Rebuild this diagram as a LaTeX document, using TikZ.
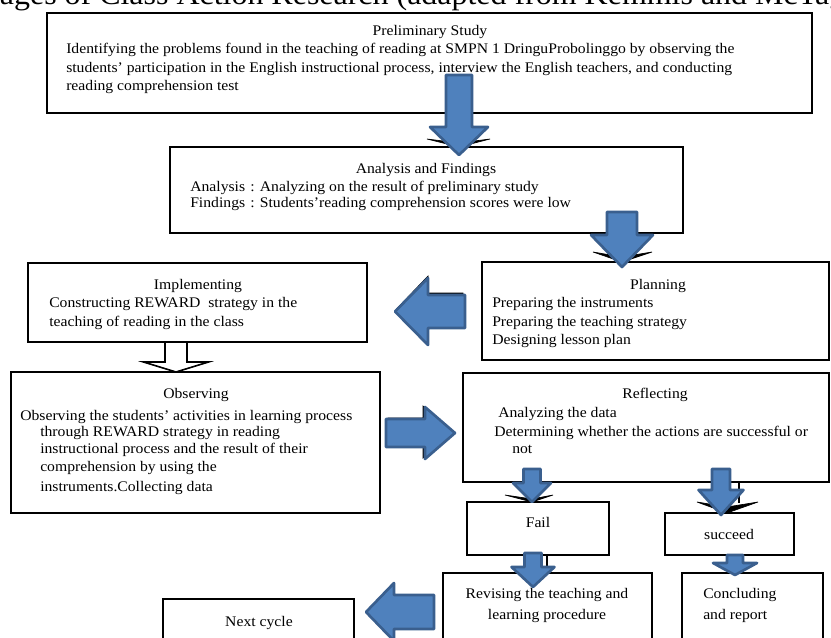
\documentclass[tikz,border=0pt]{standalone}
\usepackage{fontspec}
\setmainfont{Liberation Serif}[FakeStretch=1.07]
\usetikzlibrary{fit}
\definecolor{arrowfill}{HTML}{4F81BD}
\definecolor{arrowline}{HTML}{3A5F8E}
\tikzset{
  box/.style={draw=black, line width=1.4pt, inner sep=0pt, fill=white},
  thickbox/.style={box, line width=2pt},
  txt/.style={inner sep=0pt, font=\fontsize{11pt}{14pt}\selectfont},
  blockarrow/.style={fill=arrowfill, draw=arrowline, line width=2pt, line join=round},
  hollowarrow/.style={fill=white, draw=black, line width=1.2pt, line join=miter},
  blackbit/.style={fill=black, draw=black, line width=0.5pt},
}
\newcommand{\blkdown}[7][blockarrow]{% cx, shaftTop, shaftHalf, headTop, headHalf, tipY
  \draw[#1] ({#2-#4},#3) -- ({#2+#4},#3) -- ({#2+#4},#5) -- ({#2+#6},#5) -- (#2,#7) -- ({#2-#6},#5) -- ({#2-#4},#5) -- cycle;}
\newcommand{\blkhoriz}[7][blockarrow]{% cy, shaftEnd, shaftHalf, headBase, headHalf, tipX
  \draw[#1] (#3,{#2-#4}) -- (#3,{#2+#4}) -- (#5,{#2+#4}) -- (#5,{#2+#6}) -- (#7,#2) -- (#5,{#2-#6}) -- (#5,{#2-#4}) -- cycle;}
\begin{document}
\begin{tikzpicture}[x=0.75pt,y=-0.75pt]
\useasboundingbox (0,0) rectangle (831,638);
% title (cut off at the top of the page)
\node[anchor=base west, inner sep=0pt, font=\fontsize{22.4pt}{26pt}\selectfont] (title) at (-27,4.5) {Stages of Class Action Research (adapted from Kemmis and McTaggart, 1988)};
% boxes
\node[thickbox, fit={(47,13) (812,113)}] (prelim) {};
\node[box, fit={(170,147) (683,233)}] (analysis) {};
\node[box, fit={(28,263) (367,342)}] (impl) {};
\node[box, fit={(482,262) (829,360)}] (plan) {};
\node[box, fit={(11,372) (380,513)}] (obs) {};
\node[box, fit={(463,373) (829,482)}] (refl) {};
\node[box, fit={(467,502) (609,555)}] (fail) {};
\node[box, fit={(665,513) (794,555)}] (succ) {};
\node[box, fit={(443,573) (652,660)}] (revise) {};
\node[box, fit={(682,573) (823,660)}] (concl) {};
\node[box, fit={(163,599) (354,660)}] (next) {};
% texts
\node[txt, anchor=base] (t1) at (430,36) {Preliminary Study};
\node[txt, anchor=base west] (t2) at (66,54) {Identifying the problems found in the teaching of reading at SMPN 1 DringuProbolinggo by observing the};
\node[txt, anchor=base west] (t3) at (66,73) {students’ participation in the English instructional process, interview the English teachers, and conducting};
\node[txt, anchor=base west] (t4) at (66,91) {reading comprehension test};
\node[txt, anchor=base] (a1) at (426,173) {Analysis and Findings};
\node[txt, anchor=base west] (a2) at (190,191) {Analysis};
\node[txt, anchor=base west] (a3) at (250,191) {: Analyzing on the result of preliminary study};
\node[txt, anchor=base west] (a4) at (190,207) {Findings};
\node[txt, anchor=base west] (a5) at (250,207) {: Students’reading comprehension scores were low};
\node[txt, anchor=base] (i1) at (198,289) {Implementing};
\node[txt, anchor=base west] (i2) at (49,307) {Constructing REWARD\ \ strategy in the};
\node[txt, anchor=base west] (i3) at (49,326) {teaching of reading in the class};
\node[txt, anchor=base] (p1) at (658,289) {Planning};
\node[txt, anchor=base west] (p2) at (492,307) {Preparing the instruments};
\node[txt, anchor=base west] (p3) at (492,326) {Preparing the teaching strategy};
\node[txt, anchor=base west] (p4) at (492,344) {Designing lesson plan};
\node[txt, anchor=base] (o1) at (196,398) {Observing};
\node[txt, anchor=base west] (o2) at (20,420) {Observing the students’ activities in learning process};
\node[txt, anchor=base west] (o3) at (40,436) {through REWARD strategy in reading};
\node[txt, anchor=base west] (o4) at (40,453) {instructional process and the result of their};
\node[txt, anchor=base west] (o5) at (40,471) {comprehension by using the};
\node[txt, anchor=base west] (o6) at (40,491) {instruments.Collecting data};
\node[txt, anchor=base] (r1) at (655,398) {Reflecting};
\node[txt, anchor=base west] (r2) at (498,417) {Analyzing the data};
\node[txt, anchor=base west] (r3) at (494,436) {Determining whether the actions are successful or};
\node[txt, anchor=base west] (r4) at (512,453) {not};
\node[txt, anchor=base] (f1) at (538,527) {Fail};
\node[txt, anchor=base] (s1) at (729,539) {succeed};
\node[txt, anchor=base] (v1) at (547,598) {Revising the teaching and};
\node[txt, anchor=base] (v2) at (547,619) {learning procedure};
\node[txt, anchor=base west] (c1) at (703,598) {Concluding};
\node[txt, anchor=base west] (c2) at (703,619) {and report};
\node[txt, anchor=base] (n1) at (259,626) {Next cycle};
% black connector bits behind the block arrows
\fill[blackbit] (427,139) -- (459,147) -- (490,139) -- (459,143) -- cycle;
\fill[blackbit] (593,252) -- (622,262) -- (652,252) -- (622,257) -- cycle;
\blkhoriz[blackbit]{309.5}{463}{16.5}{428}{33.5}{396}
\blkhoriz[blackbit]{432}{388}{14}{423}{26}{452}
\fill[blackbit] (505,495) -- (532,502) -- (553,495) -- (532,499) -- cycle;
\draw[black, line width=1.2pt] (739,482) -- (739,503);
\fill[blackbit] (697,502) -- (727,513) -- (758,502) -- (727,507) -- cycle;
\draw[black, line width=1.2pt] (547,555) -- (547,568);
% hollow arrow implementing -> observing
\blkdown[hollowarrow]{176}{342}{11}{362}{32.5}{372}
% blue block arrows
\blkdown{459}{75}{13}{127}{29}{155}
\blkdown{622}{212}{15}{235}{31}{267}
\blkhoriz{311.5}{465}{16.5}{428}{33.5}{395}
\blkhoriz{433}{386}{14}{425}{26}{455}
\blkdown{532}{469}{8.5}{483}{19}{502}
\blkdown{721}{469}{9}{490}{22.5}{515}
\blkdown{533}{553}{8.5}{567}{21.5}{587}
\blkdown{735}{555}{8}{563}{22}{575}
\blkhoriz{612}{434}{17}{394}{29}{366}
\end{tikzpicture}
\end{document}
